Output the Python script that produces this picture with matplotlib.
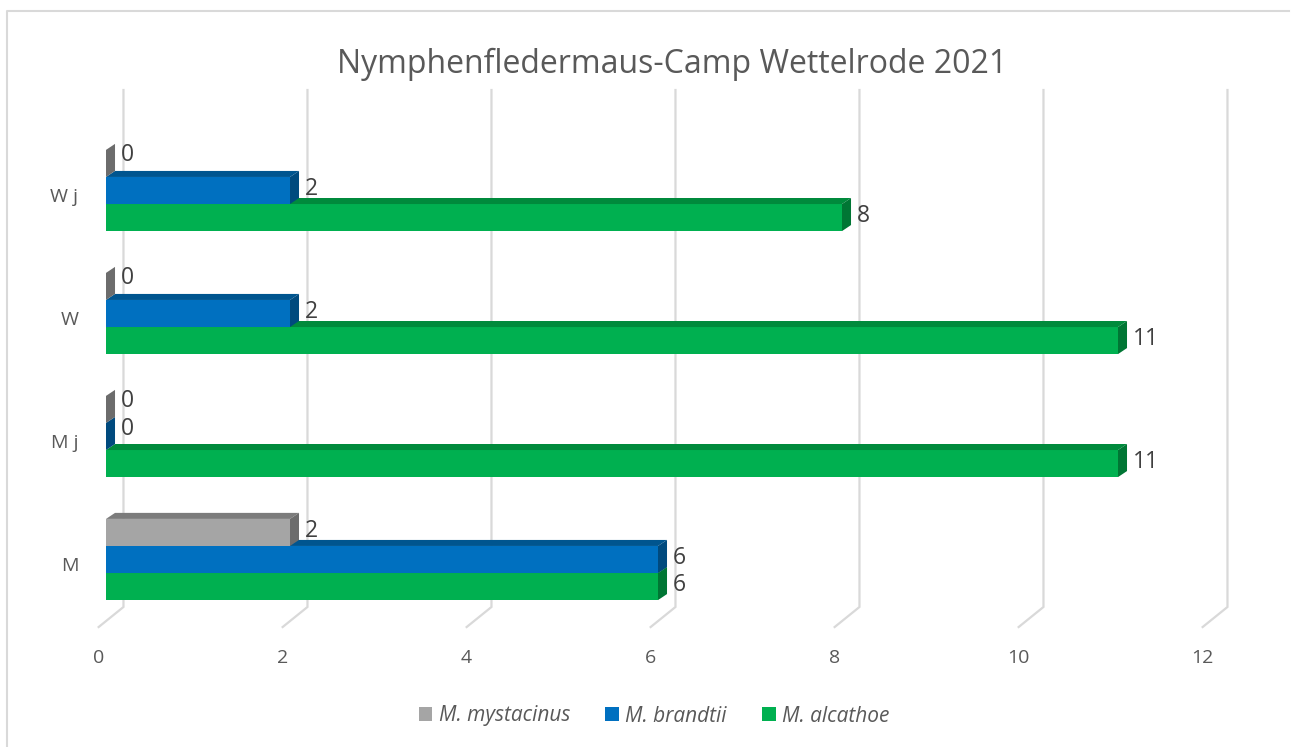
import matplotlib.pyplot as plt
from matplotlib.patches import Polygon, Patch
import numpy as np

# data
categories = ['M', 'M j', 'W', 'W j']
mystacinus = [2, 0, 0, 0]
brandtii = [6, 0, 2, 2]
alcathoe = [6, 11, 11, 8]
series_names = ['M. mystacinus', 'M. brandtii', 'M. alcathoe']
x_ticks = [0, 2, 4, 6, 8, 10, 12]

# front / top / side colours for the fake 3d bars
front_cols = ['#A5A5A5', '#0070C0', '#00B050']
top_cols = ['#7C7C7C', '#00558F', '#008A3C']
side_cols = ['#6C6C6C', '#004A7E', '#007634']
text_col = '#595959'
grid_col = '#D9D9D9'

W, H = 1291, 747
fig = plt.figure(figsize=(W / 100, H / 100), dpi=100)
ax = fig.add_axes([0, 0, 1, 1])
# pixel layout: value 0 at x=106, 92 px per unit; group spacing 123 px
ax.set_xlim(-106 / 92, (W - 106) / 92)
ax.set_ylim((559.5 - H) / 123, 559.5 / 123)
ax.axis('off')

plt.rcParams['font.family'] = ['Open Sans', 'DejaVu Sans']

bar_h = 0.22
dx, dy = 0.098, 0.049

# back wall grid + floor lines
y_back_top, y_back_bot, y_front = 3.817, -0.386, -0.549
for v in x_ticks:
    ax.plot([v + 0.19, v + 0.19, v - 0.08], [y_back_top, y_back_bot, y_front],
            color=grid_col, lw=1.6, zorder=1, solid_joinstyle='miter')
    ax.text(v - 0.08, -0.80, str(v), ha='center', va='center', fontsize=14, color=text_col)

series = [mystacinus, brandtii, alcathoe]
offsets = [bar_h, 0, -bar_h]
y = np.arange(len(categories))

z = 2
# draw bottom bars first so upper fronts cover lower top faces
for gi in range(len(categories)):
    for si in [2, 1, 0]:
        v = series[si][gi]
        yc = y[gi] + offsets[si]
        yb, yt = yc - bar_h / 2, yc + bar_h / 2
        ax.barh(yc, v, height=bar_h, left=0, color=front_cols[si], zorder=z)
        if v > 0:
            ax.add_patch(Polygon([(0, yt), (v, yt), (v + dx, yt + dy), (dx, yt + dy)],
                                 closed=True, fc=top_cols[si], ec='none', zorder=z))
        ax.add_patch(Polygon([(v, yb), (v + dx, yb + dy), (v + dx, yt + dy), (v, yt)],
                             closed=True, fc=side_cols[si], ec='none', zorder=z))
        lab_dy = 0.065 if v == 0 else 0.015
        ax.text(v + 0.16, yc + lab_dy, str(v), ha='left', va='center',
                fontsize=16.5, color='#404040', zorder=10)
        z += 1

for gi, c in enumerate(categories):
    ax.text(-0.30, y[gi] - 0.053, c, ha='right', va='center', fontsize=14, color=text_col)

# title
fig.text(672 / W, 1 - 64 / H, 'Nymphenfledermaus-Camp Wettelrode 2021',
         ha='center', va='center', fontsize=23, color=text_col)

# legend
handles = [Patch(facecolor=front_cols[i], edgecolor='none', label=series_names[i]) for i in range(3)]
fig.legend(handles=handles, loc='center', bbox_to_anchor=(654 / W, 1 - 716 / H), ncol=3,
           frameon=False, prop={'style': 'italic', 'size': 15}, labelcolor=text_col,
           handlelength=0.65, handleheight=0.65, handletextpad=0.3, columnspacing=1.7)

# chart border
fig.add_artist(plt.Line2D([6.5 / W, 6.5 / W, 1289 / W], [0, 1 - 11 / H, 1 - 11 / H],
                          transform=fig.transFigure, color=grid_col, lw=1.5))

fig.savefig('out.png', dpi=100)
